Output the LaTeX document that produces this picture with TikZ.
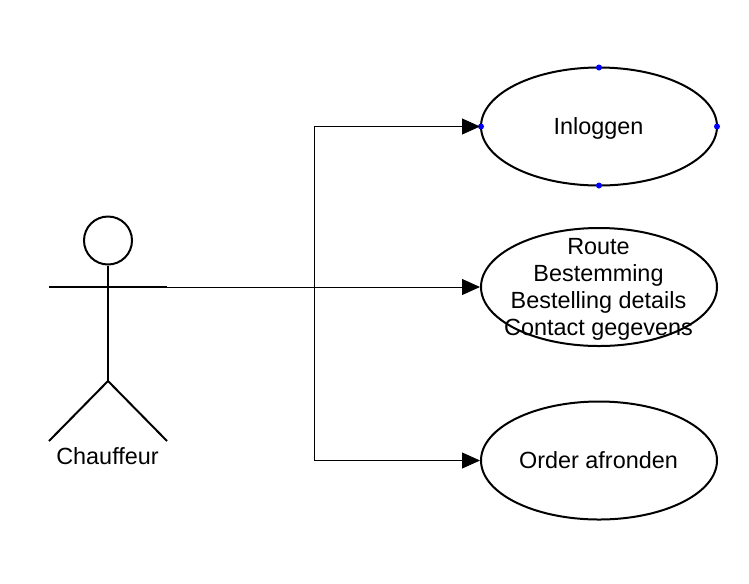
\documentclass[tikz,border=0pt]{standalone}
\usepackage{fontspec}
\setmainfont{Liberation Sans}
\usetikzlibrary{shapes.geometric,arrows.meta}
\newlength{\pxu}\setlength{\pxu}{0.75pt}
\tikzset{
  usecase/.style={draw=black,line width=1.5pt,ellipse,minimum width=236\pxu,minimum height=118\pxu,inner sep=0pt},
  actorline/.style={draw=black,line width=1.5pt},
  conn/.style={draw=black,line width=0.7pt,-{Triangle[length=13.5pt,width=12pt]}},
  port/.style={circle,fill=blue,inner sep=0pt,minimum size=4.5pt},
  lbl/.style={inner sep=0pt,align=center,font=\fontsize{23.4\pxu}{27\pxu}\selectfont}
}
\begin{document}
\begin{tikzpicture}[x=0.75pt,y=-0.75pt]
\useasboundingbox (0,0) rectangle (749,583);
\node[usecase] (a) at (599,126.5) {};
\node[usecase] (b) at (599,287) {};
\node[usecase] (c) at (599,460.5) {};
\node[lbl] (atext) at (598.5,128) {Inloggen};
\node[lbl] (btext) at (598.5,289) {Route\\Bestemming\\Bestelling details\\Contact gegevens};
\node[lbl] (ctext) at (598.5,460.5) {Order afronden};
\node[port] (p1) at (599,67.5) {};
\node[port] (p2) at (599,185.5) {};
\node[port] (p3) at (481,126.5) {};
\node[port] (p4) at (717,126.5) {};
\node[circle,draw=black,line width=1.5pt,minimum size=36pt,inner sep=0pt] (head) at (108,240.5) {};
\coordinate (hip) at (108,381);
\coordinate (armL) at (49,287);
\coordinate (armR) at (167,287);
\coordinate (legL) at (49,441);
\coordinate (legR) at (167,441);
\draw[actorline] (head.south) -- (hip);
\draw[actorline] (armL) -- (armR);
\draw[actorline] (legL) -- (hip) -- (legR);
\node[lbl] (actor) at (107.5,456) {Chauffeur};
\coordinate (j) at (314.5,287);
\draw[conn] (armR) -- (b.west);
\draw[conn] (j) |- (a.west);
\draw[conn] (j) |- (c.west);
\end{tikzpicture}
\end{document}
